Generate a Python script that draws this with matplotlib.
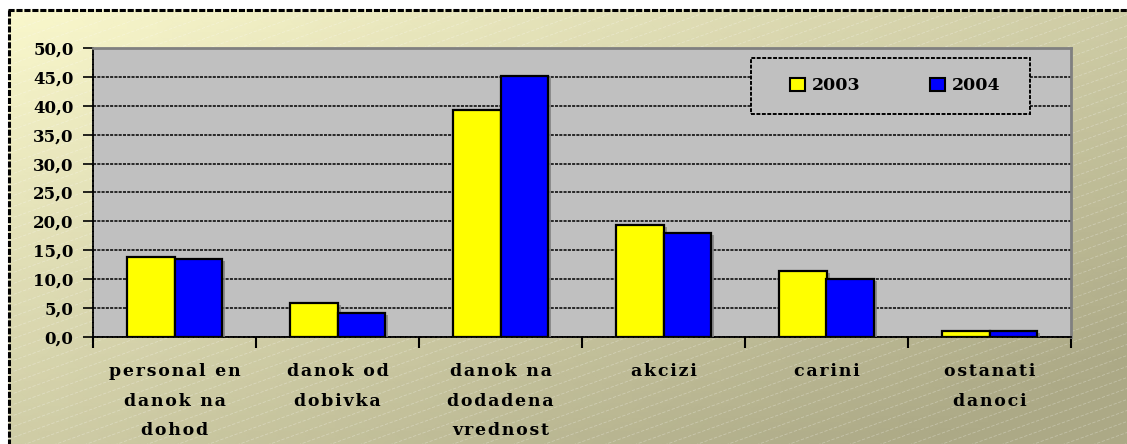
import numpy as np
import matplotlib
matplotlib.use("Agg")
import matplotlib.pyplot as plt
from matplotlib.patches import Rectangle
from matplotlib.collections import LineCollection
from matplotlib.colors import LinearSegmentedColormap
import matplotlib.patheffects as pe

categories = ["personal en\ndanok na\ndohod", "danok od\ndobivka", "danok na\ndodadena\nvrednost",
              "akcizi", "carini", "ostanati\ndanoci"]
series_names = ["2003", "2004"]
values_2003 = [13.8, 5.9, 39.3, 19.4, 11.4, 1.0]
values_2004 = [13.5, 4.2, 45.2, 18.0, 10.0, 1.0]
colors = ["#FFFF00", "#0000FF"]
yticks = [0, 5, 10, 15, 20, 25, 30, 35, 40, 45, 50]

W, H = 1127, 444
fig = plt.figure(figsize=(W / 100, H / 100), dpi=100)
fig.patch.set_facecolor("white")

# background gradient panel drawn with a gouraud-shaded mesh
bg = fig.add_axes([0, 0, 1, 1], zorder=-5)
bg.set_axis_off()
gx = np.linspace(9, W + 40, 40)
gy = np.linspace(10, H + 40, 20)
GX, GY = np.meshgrid(gx, gy)
T = np.clip(0.55 * GX / W + 0.55 * GY / H, 0, 1)
cmap = LinearSegmentedColormap.from_list("bgk", ["#FBF9CD", "#ACA986"])
bg.pcolormesh(GX, GY, T, cmap=cmap, vmin=0, vmax=1, shading="gouraud", zorder=0)
bg.set_xlim(0, W)
bg.set_ylim(H, 0)
segs = []
slope = 0.36
for k in np.arange(10, H + 0.36 * W + 20, 11):
    xa, ya = 9.0, float(k)
    if ya > H + 5:
        xa = 9.0 + (ya - H - 5) / slope
        ya = H + 5
    xb = xa + (ya - 10) / slope
    yb = 10.0
    if xb > W + 5:
        xb = W + 5
        yb = ya - slope * (xb - xa)
    if xb > xa:
        segs.append([(xa, ya), (xb, yb)])
bg.add_collection(LineCollection(segs, colors="white", alpha=0.28, linewidths=0.6,
                                 linestyles=[(0, (4, 2))], zorder=1))
bg.plot([8, W + 50], [10, 10], color="black", lw=2.2, ls=(0, (2, 0.6)), zorder=3)
bg.plot([9, 9], [10, H + 50], color="black", lw=2.2, ls=(0, (2, 0.6)), zorder=3)

# main axes
ax = fig.add_axes([93 / W, 1 - 337 / H, (1071 - 93) / W, (337 - 48) / H])
ax.set_facecolor("#C0C0C0")
x = np.arange(len(categories))
bw = 0.29
shadow = [pe.SimplePatchShadow(offset=(2.5, -1.5), shadow_rgbFace="#808080", alpha=0.8), pe.Normal()]
for i, (vals, name) in enumerate([(values_2003, series_names[0]), (values_2004, series_names[1])]):
    bars = ax.bar(x + (i - 0.5) * bw, vals, width=bw, color=colors[i], edgecolor="black",
                  linewidth=1.6, label=name, zorder=3)
    for b in bars:
        b.set_path_effects(shadow)

ax.set_xlim(-0.5, len(categories) - 0.5)
ax.set_ylim(0, 50)
ax.set_yticks(yticks)
ax.set_yticklabels([f"{v:.1f}".replace(".", ",") for v in yticks])
ax.yaxis.grid(True, color="black", lw=1.1, ls=(0, (2, 0.8)), zorder=1)
ax.set_axisbelow(True)

font = dict(family="DejaVu Serif", weight="bold")
for lab in ax.get_yticklabels():
    lab.set_fontsize(12)
    lab.set_fontfamily("DejaVu Serif")
    lab.set_fontweight("bold")
ax.tick_params(axis="y", direction="out", length=7, width=1.2, pad=7)

ax.set_xticks(np.arange(-0.5, len(categories), 1.0))
ax.set_xticklabels([])
ax.tick_params(axis="x", which="major", direction="out", length=8, width=1.5)
ax.set_xticks(x, minor=True)
spaced = ["\n".join("\u200a".join(line) for line in c.split("\n")) for c in categories]
ax.set_xticklabels(spaced, minor=True, fontsize=12.5, linespacing=1.95, **font)
ax.tick_params(axis="x", which="minor", length=0, pad=19)
for lab in ax.get_xticklabels(minor=True):
    lab.set_verticalalignment("top")
    lab.set_horizontalalignment("center")
    lab.set_multialignment("center")

for s in ["left", "bottom"]:
    ax.spines[s].set_color("black")
    ax.spines[s].set_linewidth(1.3)
    ax.spines[s].set_linestyle((0, (2, 0.8)))
for s in ["top", "right"]:
    ax.spines[s].set_color("#808080")
    ax.spines[s].set_linewidth(2)

# legend box
lx0, lx1 = (751 - 93) / 978, (1030 - 93) / 978
ly0, ly1 = (337 - 114) / 289, (337 - 58) / 289
ax.add_patch(Rectangle((lx0, ly0), lx1 - lx0, ly1 - ly0, transform=ax.transAxes,
                       facecolor="#C0C0C0", edgecolor="black", lw=1.4,
                       ls=(0, (2, 0.8)), zorder=5))
shift = 5 / 978
leg = ax.legend(loc="center", bbox_to_anchor=(lx0 + shift, ly0, lx1 - lx0, ly1 - ly0),
                ncol=2, frameon=False, prop=dict(family="DejaVu Serif", weight="bold", size=12.5),
                handlelength=0.85, handleheight=0.85, handletextpad=0.4, columnspacing=4.0)
leg.set_zorder(6)
for h in leg.legend_handles:
    h.set_path_effects([])
    h.set_linewidth(1.5)

fig.savefig("out.png", dpi=100)
